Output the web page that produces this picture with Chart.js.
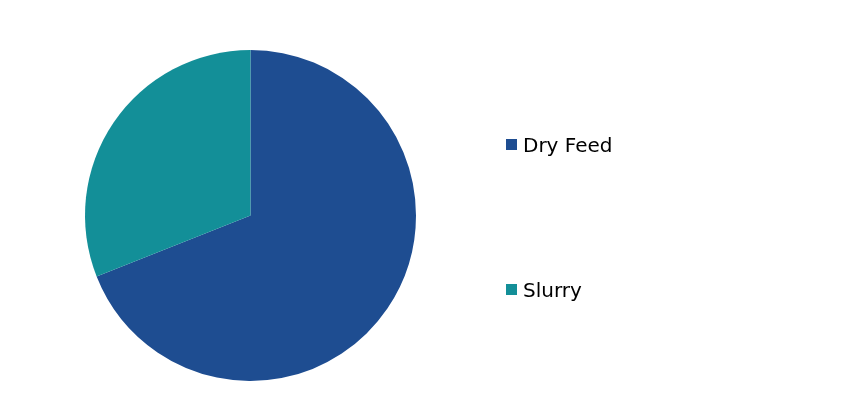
<!DOCTYPE html>
<html>
<head>
<meta charset="utf-8">
<script src="https://cdn.jsdelivr.net/npm/chart.js@4"></script>
<style>
  html, body { margin: 0; padding: 0; background: #fff; }
  #wrap { position: relative; width: 852px; height: 408px; }
</style>
</head>
<body>
<div id="wrap"><canvas id="pie" width="852" height="408"></canvas></div>
<script>
// data
const labels = ['Dry Feed', 'Slurry'];
const shares = [69, 31];
const colors = ['#1E4D91', '#138F98'];

// legend on the right, drawn on the canvas
const sideLegend = {
  id: 'sideLegend',
  afterDraw(chart) {
    const ctx = chart.ctx;
    const rows = [139, 284]; // top of each swatch
    ctx.save();
    ctx.font = '20px "DejaVu Sans"';
    ctx.textBaseline = 'alphabetic';
    chart.data.labels.forEach((lab, i) => {
      ctx.fillStyle = chart.data.datasets[0].backgroundColor[i];
      ctx.fillRect(506, rows[i], 11, 11);
      ctx.fillStyle = '#000';
      ctx.fillText(lab, 523, rows[i] + 13);
    });
    ctx.restore();
  }
};

new Chart(document.getElementById('pie'), {
  type: 'pie',
  data: {
    labels: labels,
    datasets: [{
      data: shares,
      backgroundColor: colors,
      borderWidth: 0
    }]
  },
  options: {
    responsive: false,
    animation: false,
    layout: { padding: { left: 85, right: 436, top: 50, bottom: 27 } },
    plugins: {
      legend: { display: false },
      tooltip: { enabled: false }
    }
  },
  plugins: [sideLegend]
});
</script>
</body>
</html>
